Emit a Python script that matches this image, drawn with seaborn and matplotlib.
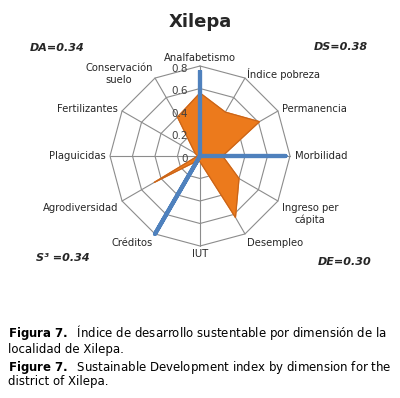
import numpy as np
import matplotlib
matplotlib.use("Agg")
import matplotlib.pyplot as plt
import seaborn as sns

sns.set_theme(style="white")
plt.rcParams['font.family'] = ['DejaVu Sans']

# datos del radar (sentido horario desde arriba)
categorias = ['Analfabetismo', 'Índice pobreza', 'Permanencia', 'Morbilidad',
              'Ingreso per\ncápita', 'Desempleo', 'IUT', 'Créditos',
              'Agrodiversidad', 'Plaguicidas', 'Fertilizantes', 'Conservación\nsuelo']
serie_naranja = [0.56, 0.45, 0.61, 0.20, 0.40, 0.63, 0.05, 0.05, 0.47, 0.02, 0.05, 0.40]
serie_azul = [0.76, 0, 0, 0.76, 0, 0, 0, 0.80, 0, 0, 0, 0]
anillos = [0.2, 0.4, 0.6, 0.8]
etiquetas_r = ['0', '0.2', '0.4', '0.6', '0.8']
indices = ['DA=0.34', 'DS=0.38', 'S³ =0.34', 'DE=0.30']

n = len(categorias)
ang = np.arange(n) * 2 * np.pi / n
sx, cy = np.sin(ang), np.cos(ang)

def cerrar(v):
    v = np.asarray(v, dtype=float)
    return np.append(v, v[0])

fig = plt.figure(figsize=(4.0, 3.98), dpi=100)
R = 0.8 * 110 / 90
ax = fig.add_axes([90 / 400, (398 - 266) / 398, 220 / 400, 220 / 398])
ax.set_xlim(-R, R)
ax.set_ylim(-R, R)
ax.axis('off')

# rejilla poligonal
for r in anillos:
    ax.plot(cerrar(r * sx), cerrar(r * cy), color='#8c8c8c', lw=0.8, zorder=1)
for i in range(n):
    ax.plot([0, 0.8 * sx[i]], [0, 0.8 * cy[i]], color='#8c8c8c', lw=0.8, zorder=1)

# serie naranja
vn = np.array(serie_naranja)
ax.fill(cerrar(vn * sx), cerrar(vn * cy), color='#EC7A1C', zorder=2)
ax.plot(cerrar(vn * sx), cerrar(vn * cy), color='#C8641A', lw=0.8, zorder=3)

# serie azul
va_ = np.array(serie_azul)
sns.lineplot(x=cerrar(va_ * sx), y=cerrar(va_ * cy), sort=False, estimator=None,
             ax=ax, color='#4F81BD', lw=3, zorder=4, solid_capstyle='butt')

# etiquetas radiales
for k, t in enumerate(etiquetas_r):
    ax.text(-0.11, k * 0.2 - 0.025, t, ha='right', va='center',
            fontsize=7.5, color='#404040', zorder=5)

# etiquetas de categorias
for i, c in enumerate(categorias):
    ha = 'left' if sx[i] > 0.01 else ('right' if sx[i] < -0.01 else 'center')
    if cy[i] > 0.9:
        vv = 'bottom'
    elif cy[i] < -0.4:
        vv = 'top'
    else:
        vv = 'center'
    rr = 0.84 if abs(sx[i]) > 0.01 else 0.83
    ax.text(rr * sx[i], rr * cy[i], c, ha=ha, va=vv, fontsize=7.2,
            color='#262626', multialignment='center')

# titulo e indices
fig.text(0.5, 1 - 22 / 398, 'Xilepa', ha='center', va='center',
         fontsize=13, fontweight='bold', color='#262626')
pos = [(30, 48, 'left'), (368, 47, 'right'), (36, 258, 'left'), (372, 262, 'right')]
for (px, py, h), t in zip(pos, indices):
    fig.text(px / 400, 1 - py / 398, t, ha=h, va='center', fontsize=8,
             fontweight='bold', fontstyle='italic', color='#262626')

# pie de figura
cap = [(333, r'$\bf{Figura\ 7.}$  Índice de desarrollo sustentable por dimensión de la'),
       (349, 'localidad de Xilepa.'),
       (367, r'$\bf{Figure\ 7.}$  Sustainable Development index by dimension for the'),
       (382, 'district of Xilepa.')]
for py, t in cap:
    fig.text(8 / 400, 1 - py / 398, t, ha='left', va='center', fontsize=8.5,
             color='black')

fig.savefig('out.png', dpi=100)
